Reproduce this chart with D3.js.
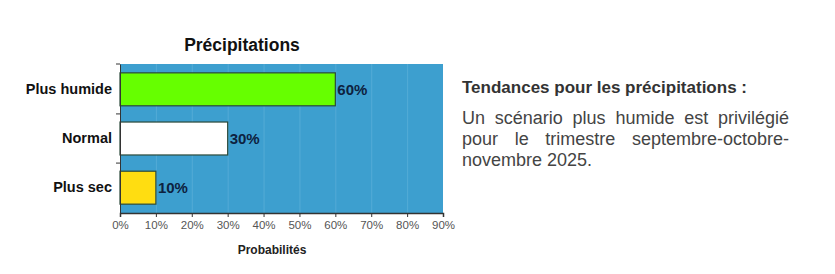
<!DOCTYPE html>
<html lang="fr">
<head>
    <meta charset="utf-8" />
    <title>Précipitations</title>
    <script src="https://d3js.org/d3.v7.min.js"></script>
    <style>
        body { margin: 0; background: #fff; font-family: "Liberation Sans", Arial, sans-serif; }
        .wrap { position: relative; width: 835px; height: 274px; }
        svg { position: absolute; left: 0; top: 0; }
        .note { position: absolute; left: 462px; top: 78px; width: 327px; color: #444; }
        .note h3 { margin: 0 0 10px 0; font-size: 17px; font-weight: bold; color: #333; }
        .note p { margin: 0; font-size: 18px; line-height: 21px; text-align: justify; }
    </style>
</head>
<body>
<div class="wrap">
    <svg id="chart" width="460" height="274"></svg>
    <div class="note">
        <h3>Tendances pour les précipitations :</h3>
        <p>Un scénario plus humide est privilégié pour le trimestre septembre-octobre-novembre 2025.</p>
    </div>
</div>
<script>
    // Data
    var categories = ["Plus humide", "Normal", "Plus sec"];
    var values = [60, 30, 10];
    var barColors = ["#66ff00", "#ffffff", "#ffdd11"];
    var xTicks = [0, 10, 20, 30, 40, 50, 60, 70, 80, 90];

    var plotLeft = 120, plotRight = 443, plotTop = 64, plotBottom = 213;

    var svg = d3.select("#chart");

    var xScale = d3.scaleLinear()
        .domain([0, 90])
        .range([plotLeft, plotRight]);

    var yScale = d3.scaleBand()
        .domain(categories)
        .range([plotTop, plotBottom])
        .paddingInner(0.33)
        .paddingOuter(0.18);

    // plot background
    svg.append("rect")
        .attr("x", plotLeft)
        .attr("y", plotTop)
        .attr("width", plotRight - plotLeft)
        .attr("height", plotBottom - plotTop)
        .attr("fill", "#3d9fcf");

    // faint vertical gridlines
    svg.append("g")
        .selectAll("line")
        .data(xTicks.slice(1, -1))
        .enter()
        .append("line")
        .attr("x1", function (d) { return xScale(d) + 0.5; })
        .attr("x2", function (d) { return xScale(d) + 0.5; })
        .attr("y1", plotTop)
        .attr("y2", plotBottom)
        .attr("stroke", "#54abd6")
        .attr("stroke-width", 1);

    // bars
    svg.selectAll("rect.bar")
        .data(values)
        .enter()
        .append("rect")
        .attr("class", "bar")
        .attr("x", xScale(0))
        .attr("y", function (d, i) { return yScale(categories[i]); })
        .attr("width", function (d) { return xScale(d) - xScale(0); })
        .attr("height", yScale.bandwidth())
        .attr("fill", function (d, i) { return barColors[i]; })
        .attr("stroke", "#2b4a3a")
        .attr("stroke-width", 1.2);

    // value labels
    svg.selectAll("text.val")
        .data(values)
        .enter()
        .append("text")
        .attr("class", "val")
        .attr("x", function (d) { return xScale(d) + 2; })
        .attr("y", function (d, i) { return yScale(categories[i]) + yScale.bandwidth() / 2 + 5.5; })
        .text(function (d) { return d + "%"; })
        .attr("font-family", "Liberation Sans, Arial, sans-serif")
        .attr("font-size", "15px")
        .attr("font-weight", "bold")
        .attr("fill", "#0d2240");

    // x axis
    var xAxis = d3.axisBottom(xScale)
        .tickValues(xTicks)
        .tickSize(4)
        .tickFormat(function (d) { return d + "%"; });

    var gx = svg.append("g")
        .attr("transform", "translate(0," + plotBottom + ")")
        .call(xAxis);
    gx.select(".domain").attr("stroke", "#333").attr("stroke-width", 1.5);
    gx.selectAll(".tick line").attr("stroke", "#333");
    gx.selectAll(".tick text")
        .attr("font-family", "Liberation Sans, Arial, sans-serif")
        .attr("font-size", "11.5px")
        .attr("fill", "#555")
        .attr("dy", "0.8em");

    // y axis
    var yAxis = d3.axisLeft(yScale).tickSize(0).tickPadding(8);
    var gy = svg.append("g")
        .attr("transform", "translate(" + plotLeft + ",0)")
        .call(yAxis);
    gy.select(".domain").attr("stroke", "#333").attr("stroke-width", 1);
    gy.selectAll(".tick text")
        .attr("font-family", "Liberation Sans, Arial, sans-serif")
        .attr("font-size", "14.5px")
        .attr("font-weight", "bold")
        .attr("fill", "#111");

    // small ticks on the category axis, between the bars
    var sepTicks = [plotTop];
    for (var i = 1; i < categories.length; i++) {
        sepTicks.push((yScale(categories[i - 1]) + yScale.bandwidth() + yScale(categories[i])) / 2);
    }
    svg.append("g")
        .selectAll("line")
        .data(sepTicks)
        .enter()
        .append("line")
        .attr("x1", plotLeft - 4)
        .attr("x2", plotLeft)
        .attr("y1", function (d) { return d; })
        .attr("y2", function (d) { return d; })
        .attr("stroke", "#333");

    // title
    svg.append("text")
        .attr("x", 242)
        .attr("y", 51)
        .attr("text-anchor", "middle")
        .attr("font-family", "Liberation Sans, Arial, sans-serif")
        .attr("font-size", "17.5px")
        .attr("font-weight", "bold")
        .attr("fill", "#111")
        .text("Précipitations");

    // x label
    svg.append("text")
        .attr("x", 272)
        .attr("y", 254)
        .attr("text-anchor", "middle")
        .attr("font-family", "Liberation Sans, Arial, sans-serif")
        .attr("font-size", "12px")
        .attr("font-weight", "bold")
        .attr("fill", "#222")
        .text("Probabilités");
</script>
</body>
</html>
